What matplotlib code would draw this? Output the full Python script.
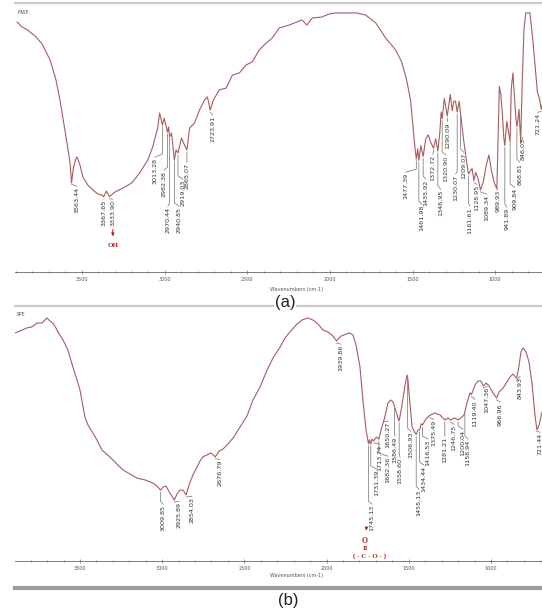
import numpy as np
import matplotlib.pyplot as plt
from matplotlib.lines import Line2D
from matplotlib.ticker import MultipleLocator

# ---- spectrum (a): wavenumber (cm-1) and %T
wn_a = [3892, 3862, 3831, 3783, 3741, 3693, 3657, 3633, 3608, 3584, 3572, 3563, 3552, 3540,
        3530, 3512, 3494, 3464, 3434, 3404, 3380, 3368, 3352, 3334, 3301, 3253, 3199, 3151,
        3102, 3072, 3042, 3030, 3013, 3003, 2982, 2976, 2970, 2958, 2941, 2931, 2919, 2898,
        2880, 2865, 2849, 2819, 2789, 2759, 2741, 2724, 2705, 2669, 2627, 2590, 2548, 2506,
        2470, 2428, 2386, 2349, 2307, 2247, 2169, 2139, 2108, 2048, 2006, 1964, 1916, 1837,
        1783, 1723, 1663, 1602, 1566, 1536, 1512, 1494, 1484, 1477, 1469, 1462, 1450, 1436,
        1420, 1405, 1392, 1373, 1360, 1347, 1335, 1327, 1321, 1308, 1298, 1290, 1272, 1260,
        1250, 1240, 1230, 1218, 1209, 1195, 1180, 1162, 1150, 1140, 1129, 1118, 1105, 1089,
        1072, 1055, 1038, 1024, 1005, 990, 982, 975, 966, 957, 948, 942, 930, 918, 910, 903,
        893, 882, 875, 869, 862, 856, 846, 836, 826, 815, 790, 772, 758, 745, 733, 721, 712]
t_a = [92.9, 91.1, 90.0, 87.7, 84.8, 78.8, 71.4, 63.9, 54.6, 45.4, 40.5, 33.1, 38.5, 41.5,
       42.8, 39.8, 35.3, 32.3, 30.5, 29.0, 28.6, 28.0, 30.1, 28.0, 29.7, 31.2, 33.1, 36.8,
       41.6, 46.5, 53.5, 59.1, 54.6, 57.2, 52.0, 53.9, 50.2, 51.7, 41.6, 45.4, 44.2, 49.8,
       47.2, 45.4, 53.5, 55.4, 60.2, 63.9, 65.1, 60.2, 63.9, 67.7, 68.4, 73.2, 74.0, 77.0,
       78.1, 82.5, 85.1, 87.0, 90.7, 91.8, 93.7, 91.8, 94.4, 94.8, 95.9, 96.3, 96.3, 96.3,
       95.5, 92.6, 87.0, 82.5, 78.1, 71.4, 63.9, 51.7, 45.4, 42.0, 45.8, 41.5, 47.0, 43.0,
       49.5, 51.0, 48.5, 46.0, 49.5, 45.0, 52.0, 59.5, 57.0, 64.5, 61.0, 58.0, 66.0, 60.0,
       63.5, 63.5, 59.5, 63.5, 58.5, 51.0, 44.0, 36.5, 37.5, 38.5, 34.0, 37.0, 35.0, 30.5,
       33.5, 39.5, 43.5, 38.0, 33.0, 31.0, 52.0, 69.0, 66.0, 59.0, 50.0, 47.0, 56.0, 51.5,
       48.5, 68.0, 74.0, 63.5, 57.5, 54.0, 57.0, 60.5, 48.5, 72.0, 90.0, 96.3, 96.3, 86.0,
       76.0, 67.0, 64.5, 60.5, 63.0]

peaks_a = ["3563.44", "3367.65", "3333.90", "3013.28", "2982.38", "2970.44", "2940.85",
           "2919.03", "2865.07", "2723.91", "1477.39", "1461.98", "1435.92", "1372.72",
           "1346.95", "1320.90", "1290.09", "1230.07", "1209.07", "1161.61", "1128.95",
           "1089.34", "989.93", "941.89", "909.84", "868.81", "846.03", "721.24"]
peaks_a_x = [3530, 3367, 3313, 3059, 3004, 2980, 2914, 2889, 2865, 2708, 1541, 1444, 1420,
             1378, 1330, 1299, 1287, 1239, 1190, 1154, 1112, 1051, 985, 930, 882, 852, 834, 743]
peaks_a_top = [31.5, 26.8, 26.8, 42.4, 37.5, 24.2, 24.2, 34.2, 40.5, 58.0, 36.8, 24.9, 34.2,
               43.5, 30.5, 43.2, 55.5, 36.1, 44.2, 24.2, 32.3, 28.6, 30.5, 23.8, 31.2, 40.5,
               49.8, 59.0]

# ---- spectrum (b)
wn_b = [3895, 3865, 3822, 3792, 3762, 3731, 3713, 3701, 3682, 3664, 3646, 3634, 3603, 3573,
        3543, 3518, 3500, 3470, 3451, 3421, 3397, 3366, 3318, 3275, 3238, 3196, 3153, 3105,
        3056, 3032, 3010, 2995, 2977, 2953, 2926, 2910, 2892, 2873, 2854, 2837, 2813, 2788,
        2770, 2752, 2727, 2703, 2677, 2654, 2630, 2600, 2569, 2527, 2484, 2448, 2405, 2362,
        2326, 2283, 2253, 2223, 2186, 2150, 2113, 2083, 2052, 2022, 1991, 1961, 1940, 1912,
        1882, 1858, 1839, 1821, 1797, 1779, 1760, 1745, 1739, 1731, 1723, 1714, 1697, 1682,
        1669, 1650, 1639, 1627, 1608, 1596, 1586, 1566, 1559, 1541, 1523, 1511, 1506, 1499,
        1480, 1462, 1455, 1444, 1434, 1424, 1417, 1395, 1375, 1345, 1310, 1281, 1262, 1247,
        1222, 1200, 1176, 1164, 1146, 1128, 1119, 1097, 1079, 1061, 1047, 1030, 1012, 988,
        966, 951, 927, 903, 884, 866, 844, 830, 818, 806, 787, 769, 751, 733, 721, 708, 690]
t_b = [89.4, 90.2, 91.4, 91.8, 93.3, 93.3, 94.5, 95.3, 94.1, 93.3, 91.4, 89.8, 86.7, 82.7,
       76.1, 71.0, 67.1, 56.5, 53.3, 50.2, 47.5, 43.5, 40.8, 38.0, 35.7, 34.1, 32.5, 31.8,
       30.6, 29.4, 27.8, 29.0, 29.4, 26.7, 23.9, 26.3, 27.8, 27.8, 25.9, 29.8, 33.7, 36.9,
       39.2, 40.8, 41.6, 42.4, 40.8, 43.1, 43.9, 45.9, 48.2, 52.5, 56.9, 63.1, 68.2, 74.9,
       79.6, 83.9, 87.5, 89.8, 92.5, 94.5, 95.3, 94.5, 92.9, 90.6, 89.8, 88.2, 86.3, 88.2,
       89.0, 89.4, 88.6, 84.7, 76.1, 63.1, 51.4, 45.9, 47.5, 45.9, 47.8, 47.1, 48.6, 47.8,
       51.4, 55.5, 58.4, 62.0, 63.1, 62.4, 60.5, 56.1, 54.9, 61.2, 69.0, 72.9, 71.5, 66.0,
       52.5, 50.2, 49.6, 51.4, 51.5, 53.9, 53.3, 55.8, 57.0, 58.0, 57.3, 55.3, 56.1, 55.3,
       56.1, 55.3, 56.5, 57.3, 62.0, 65.9, 65.3, 69.0, 70.6, 70.6, 68.6, 69.8, 68.6, 65.9,
       63.9, 66.3, 67.8, 70.2, 72.2, 73.3, 71.6, 76.5, 82.0, 83.5, 82.0, 78.0, 69.8, 57.3,
       51.4, 53.3, 58.4]

peaks_b = ["3009.85", "2925.89", "2854.03", "2676.79", "1939.86", "1745.13", "1731.39",
           "1713.74", "1682.36", "1650.27", "1586.49", "1558.60", "1506.93", "1455.13",
           "1434.44", "1416.53", "1375.49", "1281.21", "1246.75", "1200.04", "1158.94",
           "1119.40", "1047.36", "966.96", "843.93", "721.44"]
peaks_b_x = [2995, 2898, 2819, 2648, 1912, 1724, 1693, 1675, 1626, 1626, 1584, 1553, 1487,
             1438, 1407, 1383, 1347, 1280, 1225, 1170, 1140, 1097, 1024, 945, 823, 702]
peaks_b_top = [22.0, 23.1, 25.1, 39.6, 84.7, 22.0, 35.7, 45.5, 40.8, 54.5, 48.6, 40.4, 50.6,
               27.8, 37.3, 47.5, 55.3, 48.6, 53.3, 51.4, 47.5, 63.1, 68.2, 62.0, 72.2, 50.2]

spec_color = "#a55e5b"
lead_color = "#6e6e6e"
red = "#b8201c"

W, H = 542, 612
fig = plt.figure(figsize=(W / 100, H / 100), dpi=100)


def panel(rect, wn, t, peaks, peaks_x, peaks_top, xlim, corner):
    ax = fig.add_axes(rect)
    ax.plot(wn, t, color=spec_color, lw=0.8)
    ax.set_xlim(*xlim)
    ax.set_ylim(0, 100)
    ax.set_yticks([])
    ax.xaxis.set_major_locator(MultipleLocator(500))
    ax.xaxis.set_minor_locator(MultipleLocator(100))
    ax.tick_params(axis="x", which="major", labelsize=3.5, length=2.2, width=0.4,
                   direction="inout", colors="#555555", pad=2.5)
    ax.tick_params(axis="x", which="minor", length=1.3, width=0.4,
                   direction="inout", colors="#555555")
    for s in ("left", "right"):
        ax.spines[s].set_visible(False)
    ax.spines["top"].set_color("#cbcbcb")
    ax.spines["top"].set_linewidth(1.6)
    ax.spines["bottom"].set_color("#666666")
    ax.spines["bottom"].set_linewidth(0.6)

    wn_inc = np.array(wn, dtype=float)[::-1]
    t_inc = np.array(t, dtype=float)[::-1]
    for lab, lx, top in zip(peaks, peaks_x, peaks_top):
        dip = float(lab)
        cy = np.interp(dip, wn_inc, t_inc) - 0.8
        mid = min(cy, top + 1.5)
        ax.plot([dip, dip, lx], [cy, mid, top + 0.3], color=lead_color, lw=0.5)
        ax.text(lx, top, lab, rotation=90, ha="center", va="top",
                fontsize=4.6, color="#333333")
    ax.text(0.004, 0.965, corner, transform=ax.transAxes, fontsize=3.3,
            color="#555555", ha="left", va="center")
    return ax


ax_a = panel([15 / W, 1 - 272 / H, 527 / W, 269 / H], wn_a, t_a,
             peaks_a, peaks_a_x, peaks_a_top, (3905, 717), "MWE")
ax_b = panel([15 / W, 1 - 561 / H, 527 / W, 255 / H], wn_b, t_b,
             peaks_b, peaks_b_x, peaks_b_top, (3895, 690), "SPE")

# OH marker in (a)
ax_a.annotate("", xy=(3313, 12.2), xytext=(3313, 16.8),
              arrowprops=dict(arrowstyle="-|>", color=red, lw=0.8, mutation_scale=4))
ax_a.text(3313, 10.0, "OH", color=red, fontsize=5, fontweight="bold",
          family="Liberation Serif", ha="center", va="center")

# ester carbonyl marker in (b)
ax_b.annotate("", xy=(1758, 10.8), xytext=(1758, 14.5),
              arrowprops=dict(arrowstyle="-|>", color=red, lw=0.8, mutation_scale=4))
ax_b.text(1766, 8.0, "O", color=red, fontsize=5.5, fontweight="bold",
          family="Liberation Serif", ha="center", va="center")
ax_b.text(1766, 5.0, "II", color=red, fontsize=5, fontweight="bold",
          family="Liberation Serif", ha="center", va="center")
ax_b.text(1740, 1.9, "( - C - O - )", color=red, fontsize=5, fontweight="bold",
          family="Liberation Serif", ha="center", va="center")

# axis titles and panel letters
fig.text(297 / W, 1 - 290 / H, "Wavenumbers (cm-1)", fontsize=3.5, color="#555555",
         ha="center", va="center")
fig.text(296 / W, 1 - 576 / H, "Wavenumbers (cm-1)", fontsize=3.5, color="#555555",
         ha="center", va="center")
fig.text(285 / W, 1 - 302 / H, "(a)", fontsize=12, family="Liberation Sans",
         ha="center", va="center", color="#222222",
         bbox=dict(facecolor="white", edgecolor="none", pad=0.5))
fig.text(288 / W, 1 - 600 / H, "(b)", fontsize=12, family="Liberation Sans",
         ha="center", va="center", color="#222222")

# bottom frame line
fig.add_artist(Line2D([15 / W, 1], [1 - 588 / H, 1 - 588 / H], color="#9c9c9c", lw=3))

fig.savefig("out.png", dpi=100, facecolor="white")
